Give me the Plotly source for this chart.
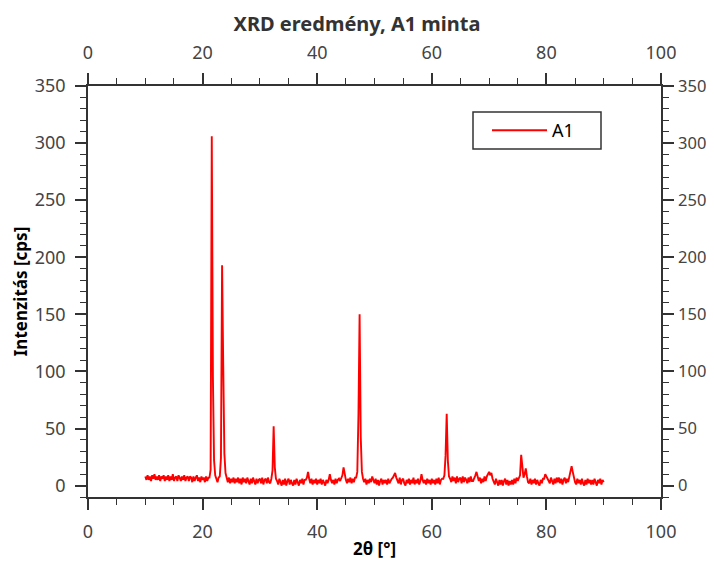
import plotly.graph_objects as go

# XRD scan, sample A1: 2theta from 10 to 90 deg in 0.2 deg steps
TWO_THETA_START = 10.0
TWO_THETA_STEP = 0.2

# intensity [cps], one row = 2 deg (10 points)
intensity = [
    8, 5, 9, 5, 8, 4, 9, 6, 10, 5,          # 10
    8, 5, 9, 4, 8, 6, 9, 4, 8, 5,           # 12
    9, 4, 8, 5, 10, 4, 7, 8, 4, 9,          # 14
    7, 4, 8, 5, 9, 4, 7, 8, 4, 8,           # 16
    7, 3, 8, 4, 7, 9, 4, 7, 3, 8,           # 18
    5, 7, 3, 8, 4, 7, 7, 14, 306, 95,       # 20
    22, 9, 6, 3, 7, 8, 24, 193, 105, 28,    # 22
    11, 7, 3, 7, 2, 6, 3, 7, 2, 6,          # 24
    3, 7, 2, 6, 1, 7, 3, 6, 2, 7,           # 26
    4, 1, 6, 2, 7, 3, 1, 6, 2, 5,           # 28
    6, 2, 7, 1, 5, 6, 2, 7, 3, 2,           # 30
    6, 13, 52, 16, 6, 4, 1, 6, 2, 0,        # 32
    5, 1, 6, 0, 4, 6, 1, 5, 2, 0,           # 34
    5, 1, 6, 2, 0, 5, 2, 6, 1, 5,           # 36
    5, 7, 12, 6, 2, 6, 1, 5, 2, 6,          # 38
    1, 5, 2, 6, 1, 5, 2, 0, 5, 2,           # 40
    5, 10, 5, 2, 5, 1, 6, 2, 5, 6,          # 42
    4, 7, 9, 16, 8, 5, 2, 6, 3, 7,          # 44
    2, 6, 3, 7, 7, 12, 62, 150, 42, 12,     # 46
    6, 3, 6, 1, 5, 2, 6, 3, 8, 5,           # 48
    2, 6, 1, 5, 0, 4, 6, 1, 5, 2,           # 50
    5, 1, 6, 2, 5, 6, 7, 9, 11, 7,          # 52
    5, 2, 7, 1, 5, 6, 2, 0, 5, 2,           # 54
    6, 1, 5, 2, 7, 1, 5, 2, 6, 1,           # 56
    4, 10, 5, 2, 5, 1, 6, 2, 5, 1,          # 58
    6, 2, 5, 1, 6, 2, 7, 1, 5, 6,           # 60
    6, 9, 26, 63, 22, 8, 6, 3, 8, 4,        # 62
    7, 2, 8, 3, 6, 7, 2, 8, 3, 7,           # 64
    5, 2, 7, 3, 8, 4, 4, 6, 9, 12,          # 66
    8, 4, 7, 2, 6, 3, 8, 4, 8, 10,          # 68
    12, 9, 11, 6, 3, 1, 6, 2, 0, 5,         # 70
    1, 5, 0, 4, 6, 1, 5, 0, 4, 1,           # 72
    5, 1, 6, 2, 7, 4, 7, 9, 27, 13,         # 74
    7, 10, 15, 8, 3, 2, 6, 1, 5, 2,         # 76
    6, 1, 5, 2, 0, 5, 2, 6, 6, 10,          # 78
    8, 7, 5, 2, 7, 3, 1, 6, 2, 7,           # 80
    3, 7, 2, 6, 1, 5, 7, 2, 6, 3,           # 82
    7, 11, 17, 12, 6, 3, 1, 6, 2, 5,        # 84
    1, 6, 2, 0, 5, 1, 6, 2, 5, 1,           # 86
    5, 1, 6, 2, 0, 5, 2, 6, 1, 5,           # 88
    3,                                      # 90
]
two_theta = [round(TWO_THETA_START + i * TWO_THETA_STEP, 1) for i in range(len(intensity))]

FONT = "Noto Sans"
AXIS_COL = "#333333"
TICK_COL = "#444444"

# the html page puts an 8px body margin around the figure; keep it inside the window
OFF = 8
W, H = 714 - 2 * OFF, 568 - 2 * OFF
# plot area in page pixels (from the reference)
L, R, T, B = 88, 661, 86, 497

fig = go.Figure()
fig.add_trace(go.Scatter(
    x=two_theta, y=intensity, mode="lines", name="A1",
    line=dict(color="#ff0000", width=1.9),
))
# dummy trace so the mirrored top/right axes get drawn
fig.add_trace(go.Scatter(
    x=[None], y=[None], xaxis="x2", yaxis="y2",
    showlegend=False, hoverinfo="skip",
))

axis_common = dict(
    showline=True, linecolor=AXIS_COL, linewidth=1.5,
    ticks="outside", ticklen=11, tickwidth=1.5, tickcolor=AXIS_COL,
    showgrid=False, zeroline=False, automargin=False,
    tickfont=dict(family=FONT, size=18, color=TICK_COL),
)
x_common = dict(axis_common, range=[0, 100], tick0=0, dtick=20, ticklabelstandoff=7,
                minor=dict(ticks="outside", ticklen=6, tickwidth=1.2,
                           tickcolor=AXIS_COL, tick0=0, dtick=5))
y_common = dict(axis_common, range=[-10, 350], tick0=0, dtick=50,
                minor=dict(ticks="outside", ticklen=6, tickwidth=1.2,
                           tickcolor=AXIS_COL, tick0=0, dtick=10))

# legend frame
fig.add_shape(type="rect", xref="paper", yref="paper",
              x0=(473 - L) / (R - L), x1=(601 - L) / (R - L),
              y0=(B - 149) / (B - T), y1=(B - 112) / (B - T),
              line=dict(color=AXIS_COL, width=1.5), fillcolor="white", layer="above")

fig.update_layout(
    width=W, height=H,
    margin=dict(l=L - OFF, r=W - (R - OFF), t=T - OFF, b=H - (B - OFF)),
    paper_bgcolor="white", plot_bgcolor="white",
    title=dict(text="<b>XRD eredmény, A1 minta</b>", x=(357 - OFF) / W, xref="container",
               xanchor="center", y=1 - (24 - OFF) / H, yanchor="middle",
               font=dict(family=FONT, size=20, color="#333333")),
    xaxis=dict(x_common, title=dict(text="<b>2θ [°]</b>", standoff=12,
                                    font=dict(family=FONT, size=17, color="black"))),
    yaxis=dict(y_common, ticklabelstandoff=6,
               title=dict(text="<b>Intenzitás [cps]</b>", standoff=3,
                          font=dict(family=FONT, size=17, color="black"))),
    xaxis2=dict(x_common, overlaying="x", side="top", anchor="y"),
    yaxis2=dict(y_common, overlaying="y", side="right", anchor="x", ticklabelstandoff=1,
                tickfont=dict(family=FONT, size=16.5, color=TICK_COL)),
    legend=dict(x=(487 - L) / (R - L), y=(B - 130.5) / (B - T), xanchor="left", yanchor="middle",
                bgcolor="rgba(0,0,0,0)", borderwidth=0,
                font=dict(family=FONT, size=18, color="black"),
                itemwidth=55),
    showlegend=True,
)

fig.write_html("out.html")
